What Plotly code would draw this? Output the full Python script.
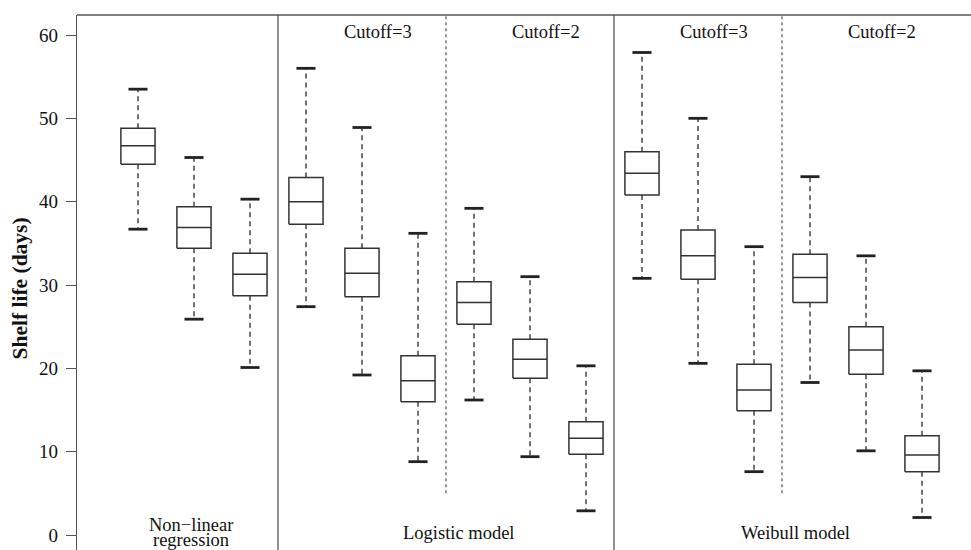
import plotly.graph_objects as go

# ---- data ----
positions = list(range(1, 16))
lower_whisker = [36.7, 25.9, 20.1, 27.4, 19.2, 8.8, 16.2, 9.4, 2.9, 30.8, 20.6, 7.6, 18.3, 10.1, 2.1]
q1_values     = [44.5, 34.4, 28.7, 37.3, 28.6, 16.0, 25.3, 18.8, 9.7, 40.8, 30.7, 14.9, 27.9, 19.3, 7.6]
median_values = [46.7, 36.9, 31.3, 40.0, 31.4, 18.5, 27.9, 21.1, 11.6, 43.4, 33.5, 17.4, 30.9, 22.2, 9.6]
q3_values     = [48.8, 39.4, 33.8, 42.9, 34.4, 21.5, 30.4, 23.5, 13.6, 46.0, 36.6, 20.5, 33.7, 25.0, 11.9]
upper_whisker = [53.5, 45.3, 40.3, 56.0, 48.9, 36.2, 39.2, 31.0, 20.3, 57.9, 50.0, 34.6, 43.0, 33.5, 19.7]

group_labels = ["Logistic model", "Weibull model"]
group_label_x = [6.73, 12.74]
nonlinear_label_lines = ["Non\u2212linear", "regression"]
nonlinear_label_x = 1.94
nonlinear_label_y = [1.2, -0.62]
cutoff_labels = ["Cutoff=3", "Cutoff=2", "Cutoff=3", "Cutoff=2"]
cutoff_label_x = [5.28, 8.28, 11.28, 14.28]
solid_separators = [3.5, 9.5]
dashed_separators = [6.5, 12.5]
dashed_separator_bottom = 5
y_ticks = [0, 10, 20, 30, 40, 50, 60]

# ---- styling ----
BOX_HALF = 0.305
CAP_HALF = 0.17
FONT = "Liberation Serif"
LINE_COL = "#333333"

box_x, box_y = [], []
med_x, med_y = [], []
wh_x, wh_y = [], []
cap_x, cap_y = [], []
for p, lo, q1, md, q3, hi in zip(positions, lower_whisker, q1_values, median_values, q3_values, upper_whisker):
    box_x += [p - BOX_HALF, p + BOX_HALF, p + BOX_HALF, p - BOX_HALF, p - BOX_HALF, None]
    box_y += [q1, q1, q3, q3, q1, None]
    med_x += [p - BOX_HALF, p + BOX_HALF, None]
    med_y += [md, md, None]
    wh_x += [p, p, None, p, p, None]
    wh_y += [q3, hi, None, q1, lo, None]
    cap_x += [p - CAP_HALF, p + CAP_HALF, None, p - CAP_HALF, p + CAP_HALF, None]
    cap_y += [hi, hi, None, lo, lo, None]

fig = go.Figure()
fig.add_trace(go.Scatter(x=wh_x, y=wh_y, mode="lines",
                         line=dict(color="#444444", width=1.5, dash="5px,4px"),
                         hoverinfo="skip", showlegend=False))
fig.add_trace(go.Scatter(x=box_x, y=box_y, mode="lines", fill="toself", fillcolor="white",
                         line=dict(color=LINE_COL, width=1.5),
                         hoverinfo="skip", showlegend=False))
fig.add_trace(go.Scatter(x=med_x, y=med_y, mode="lines",
                         line=dict(color=LINE_COL, width=1.5),
                         hoverinfo="skip", showlegend=False))
fig.add_trace(go.Scatter(x=cap_x, y=cap_y, mode="lines",
                         line=dict(color="#222222", width=2.8),
                         hoverinfo="skip", showlegend=False))

shapes = []
for sx in solid_separators:
    shapes.append(dict(type="line", xref="x", yref="paper", x0=sx, x1=sx, y0=0, y1=1,
                       line=dict(color="#555555", width=1.3)))
for dx in dashed_separators:
    shapes.append(dict(type="line", xref="x", yref="y", x0=dx, x1=dx, y0=dashed_separator_bottom, y1=62.4,
                       line=dict(color="#555555", width=1.2, dash="3px,3px")))
shapes.append(dict(type="line", xref="paper", yref="paper", x0=0, x1=1, y0=1, y1=1,
                   line=dict(color="#555555", width=1.3)))

annotations = []
for lab, x in zip(cutoff_labels, cutoff_label_x):
    annotations.append(dict(x=x, y=60.4, xref="x", yref="y", text=lab, showarrow=False,
                            font=dict(family=FONT, size=18.5, color="#111111")))
for lab, y in zip(nonlinear_label_lines, nonlinear_label_y):
    annotations.append(dict(x=nonlinear_label_x, y=y, xref="x", yref="y", text=lab,
                            showarrow=False, yanchor="middle",
                            font=dict(family=FONT, size=18.5, color="#111111")))
for lab, x in zip(group_labels, group_label_x):
    annotations.append(dict(x=x, y=0.25, xref="x", yref="y", text=lab, showarrow=False,
                            font=dict(family=FONT, size=18.5, color="#111111")))
annotations.append(dict(x=-(77 - 19) / 894, y=(550 - 288.5) / 535, xref="paper", yref="paper",
                        text="<b>Shelf life (days)</b>", textangle=-90, showarrow=False,
                        xanchor="center", yanchor="middle",
                        font=dict(family=FONT, size=21.5, color="#111111")))

fig.update_layout(
    width=971, height=550,
    margin=dict(l=77, r=0, t=15, b=0),
    plot_bgcolor="white", paper_bgcolor="white",
    shapes=shapes, annotations=annotations,
    xaxis=dict(range=[-0.089, 15.875], showgrid=False, zeroline=False,
               showticklabels=False, ticks="", showline=False),
    yaxis=dict(range=[-1.8, 62.4], showgrid=False, zeroline=False,
               tickvals=y_ticks, ticks="outside", ticklen=10, tickwidth=1.3,
               tickcolor="#555555", showline=True, linecolor="#555555", linewidth=1.3,
               tickfont=dict(family=FONT, size=19, color="#111111"),
               ticklabelstandoff=4),
)

fig.write_html("out.html")
